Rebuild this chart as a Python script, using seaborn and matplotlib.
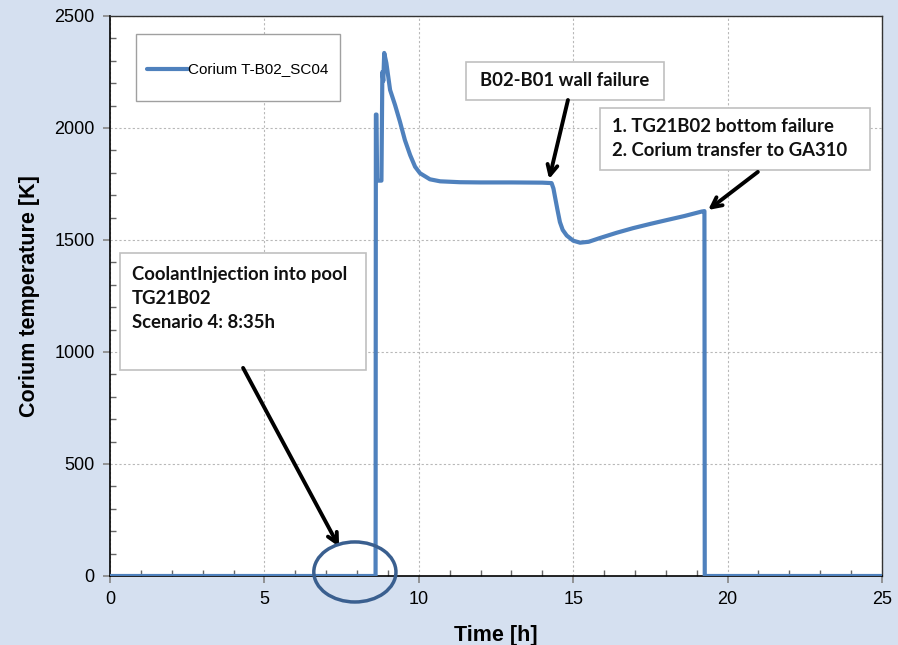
import numpy as np
import pandas as pd
import matplotlib
matplotlib.use("Agg")
import matplotlib.pyplot as plt
import seaborn as sns
from matplotlib.patches import Ellipse, Rectangle
from matplotlib.ticker import MultipleLocator

# Corium temperature trace
time_h = [0.0, 8.60, 8.61, 8.63, 8.65, 8.79, 8.82, 8.85, 8.88, 8.95, 9.07, 9.23,
          9.39, 9.55, 9.72, 9.88, 10.04, 10.36, 10.69, 11.33, 12.00, 13.00,
          14.00, 14.30, 14.36, 14.41, 14.49, 14.57, 14.66, 14.79, 15.00, 15.22,
          15.50, 15.87, 16.40, 16.94, 17.50, 18.03, 18.60, 19.16, 19.25, 19.26, 25.0]
temp_k = [0, 0, 2060, 2060, 1765, 1765, 2250, 2210, 2335, 2290, 2170, 2103,
          2028, 1946, 1879, 1827, 1798, 1771, 1762, 1758, 1757, 1757,
          1756, 1754, 1730, 1693, 1635, 1580, 1545, 1520, 1497, 1488,
          1492, 1509, 1532, 1553, 1572, 1589, 1607, 1627, 1629, 0, 0]

series_name = "Corium T-B02_SC04"
note_injection = "CoolantInjection into pool\nTG21B02\nScenario 4: 8:35h"
note_wall = "B02-B01 wall failure"
note_bottom = "1. TG21B02 bottom failure\n2. Corium transfer to GA310"

df = pd.DataFrame({"Time": time_h, "Temp": temp_k})

sns.set_theme(style="white")
plt.rcParams["font.family"] = ["Liberation Sans", "DejaVu Sans"]

BG = "#D5E0F0"
BLUE = "#4F81BD"

fig = plt.figure(figsize=(8.98, 6.45), dpi=100, facecolor=BG)
ax = fig.add_axes([110 / 898, 1 - 576 / 645, 772 / 898, 560 / 645])
ax.set_facecolor("white")

sns.lineplot(data=df, x="Time", y="Temp", sort=False, estimator=None,
             color=BLUE, linewidth=3, ax=ax, legend=False, zorder=5,
             solid_joinstyle="round")

ax.set_xlim(0, 25)
ax.set_ylim(0, 2500)
ax.xaxis.set_major_locator(MultipleLocator(5))
ax.xaxis.set_minor_locator(MultipleLocator(1))
ax.yaxis.set_major_locator(MultipleLocator(500))
ax.yaxis.set_minor_locator(MultipleLocator(100))
ax.grid(True, which="major", color="#B8B8B8", linestyle=(0, (2, 2)), linewidth=0.8)
ax.tick_params(axis="both", which="major", direction="out", length=5,
               color="#888888", labelsize=13, labelcolor="black", pad=6,
               left=True, bottom=True)
ax.tick_params(axis="both", which="minor", direction="in", length=4,
               color="#666666", left=True, bottom=True)

for side in ["left", "bottom"]:
    ax.spines[side].set_color("black")
    ax.spines[side].set_linewidth(1.2)
for side in ["top", "right"]:
    ax.spines[side].set_color("#333333")
    ax.spines[side].set_linestyle((0, (2, 1)))
    ax.spines[side].set_linewidth(1.0)

ax.set_xlabel("Time [h]", fontsize=15.5, fontweight="bold", labelpad=12,
              color="black")
ax.set_ylabel("Corium temperature [K]", fontsize=15.5, fontweight="bold",
              labelpad=10, color="black")

# legend box
ax.add_patch(Rectangle((0.84, 2121), 6.61, 299, facecolor="white",
                       edgecolor="#A0A0A0", linewidth=1, zorder=6))
ax.plot([1.2, 2.53], [2265, 2265], color=BLUE, linewidth=3,
        solid_capstyle="round", zorder=7)
ax.text(2.53, 2265, series_name, fontsize=11, va="center", ha="left",
        color="black", zorder=7)

# annotation boxes
note_font = dict(family=["Lato", "DejaVu Sans"], fontweight="bold",
                 fontsize=13.3, color="#111111", zorder=9)

ax.add_patch(Rectangle((0.32, 920), 7.97, 522, facecolor="white",
                       edgecolor="#C0C0C0", linewidth=1.2, zorder=8))
ax.text(0.72, 1385, note_injection, va="top", ha="left",
        linespacing=1.5, **note_font)

ax.add_patch(Rectangle((11.53, 2125), 6.41, 170, facecolor="white",
                       edgecolor="#C0C0C0", linewidth=1.2, zorder=8))
ax.text(14.73, 2210, note_wall, va="center", ha="center", **note_font)

ax.add_patch(Rectangle((15.87, 1813), 8.74, 276, facecolor="white",
                       edgecolor="#C0C0C0", linewidth=1.2, zorder=8))
ax.text(16.25, 1952, note_bottom, va="center", ha="left",
        linespacing=1.5, **note_font)

arrow = dict(arrowstyle="->,head_length=0.6,head_width=0.3", color="black",
             linewidth=2.8, shrinkA=0, shrinkB=0)
ax.annotate("", xy=(7.42, 130), xytext=(4.31, 929), arrowprops=arrow, zorder=10)
ax.annotate("", xy=(14.22, 1772), xytext=(14.83, 2125), arrowprops=arrow, zorder=10)
ax.annotate("", xy=(19.37, 1634), xytext=(20.98, 1804), arrowprops=arrow, zorder=10)

# circle around injection time
ax.add_patch(Ellipse((7.93, 18), 2.66, 268, fill=False, edgecolor="#3A5F8F",
                     linewidth=2.5, clip_on=False, zorder=11))

fig.savefig("out.png", dpi=100, facecolor=BG)
